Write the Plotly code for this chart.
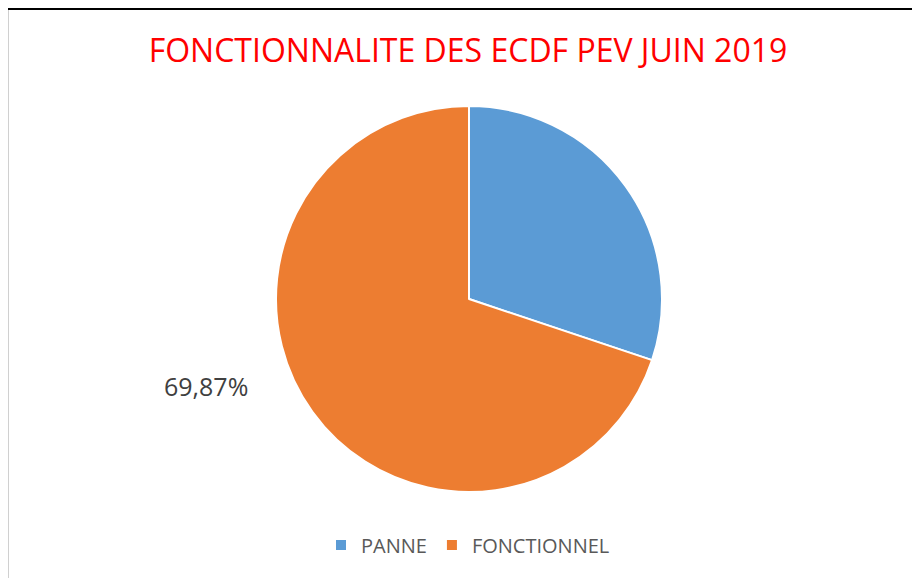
import plotly.graph_objects as go

labels = ["PANNE", "FONCTIONNEL"]
values = [30.13, 69.87]
colors = ["#5B9BD5", "#ED7D31"]
title_text = "FONCTIONNALITE DES ECDF PEV JUIN 2019"

W, H = 920, 578
OFF = 8  # page body margin offset

def px(x):
    return (x - OFF) / W

def py(y):
    return 1 - (y - OFF) / H

fig = go.Figure(go.Pie(
    labels=labels,
    values=values,
    marker=dict(colors=colors, line=dict(color="white", width=2)),
    sort=False,
    direction="clockwise",
    rotation=0,
    textinfo="none",
    hoverinfo="label+percent",
    domain=dict(x=[px(276), px(662)], y=[py(492), py(106)]),
))

label_txt = f"{values[1]:.2f}%".replace(".", ",")
fig.add_annotation(
    text=label_txt, x=px(206), y=py(386), xref="paper", yref="paper",
    xanchor="center", yanchor="middle",
    showarrow=False, font=dict(family="Open Sans", size=25, color="#404040"),
)

fig.update_layout(
    width=W, height=H,
    margin=dict(l=0, r=0, t=0, b=0),
    paper_bgcolor="white",
    title=dict(text=title_text, x=px(468), xanchor="center", y=py(51), yanchor="middle",
               font=dict(family="Open Sans", size=32, color="#FF0000")),
    showlegend=True,
    legend=dict(orientation="h", x=px(468), xanchor="center", y=py(545), yanchor="middle",
                font=dict(family="Open Sans", size=20, color="#595959"),
                itemsizing="constant", traceorder="normal", itemwidth=30),
    shapes=[
        dict(type="line", xref="paper", yref="paper", x0=0, x1=1, y0=1 - 1 / H, y1=1 - 1 / H,
             line=dict(color="black", width=2)),
        dict(type="line", xref="paper", yref="paper", x0=0.5 / W, x1=0.5 / W, y0=0, y1=1 - 2 / H,
             line=dict(color="#D0D0D0", width=1)),
    ],
)

fig.write_html("out.html")
